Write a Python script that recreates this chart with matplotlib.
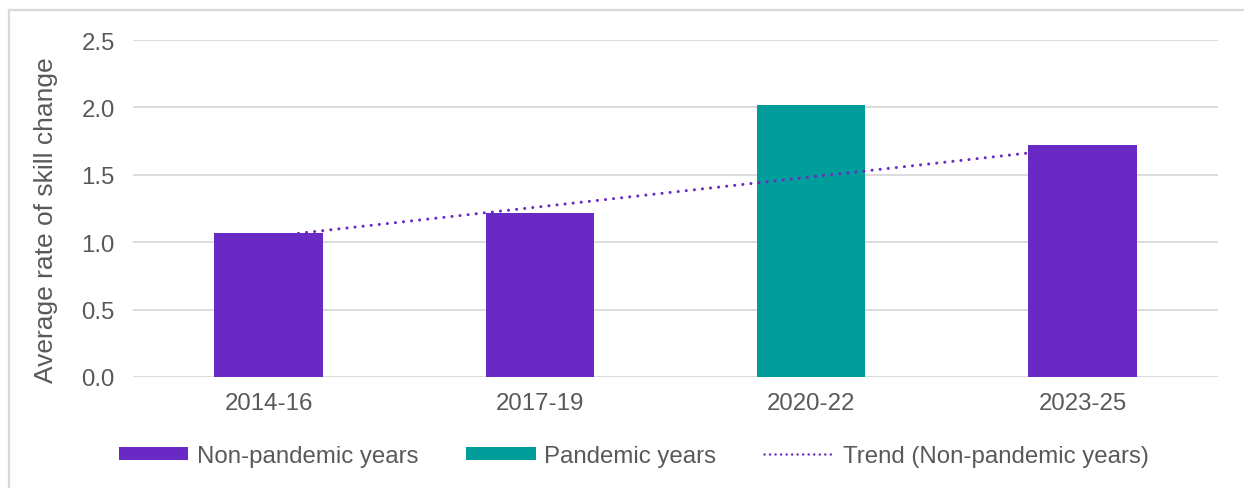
import numpy as np
import matplotlib
matplotlib.use("Agg")
import matplotlib.pyplot as plt
from matplotlib.lines import Line2D
from matplotlib.patches import Patch

# Data
periods = ["2014-16", "2017-19", "2020-22", "2023-25"]
skill_change = [1.07, 1.22, 2.02, 1.72]
is_pandemic = [False, False, True, False]
y_ticks = [0.0, 0.5, 1.0, 1.5, 2.0, 2.5]

PURPLE = "#6929C4"
TEAL = "#009D9A"
GRID = "#D9D9D9"
TEXT = "#595959"
FS = 17.3

plt.rcParams["font.family"] = ["Liberation Sans", "DejaVu Sans"]

W, H = 1244, 489
fig = plt.figure(figsize=(W / 100, H / 100), dpi=100)
ax = fig.add_axes([133 / W, 1 - 378 / H, (1218 - 133) / W, (378 - 41) / H])

x = np.arange(len(periods))
colors = [TEAL if p else PURPLE for p in is_pandemic]
ax.bar(x, skill_change, width=0.4, color=colors, zorder=2)

# Linear trend fitted on the non-pandemic periods
xs = x[~np.array(is_pandemic)]
ys = np.array(skill_change)[~np.array(is_pandemic)]
slope, intercept = np.polyfit(xs, ys, 1)
tx = np.array([0.11, 2.8])
ax.plot(tx, intercept + slope * tx, color=PURPLE, lw=2.2,
        linestyle=(0, (0.01, 2.65)), dash_capstyle="round", zorder=3)

ax.set_xlim(-0.5, 3.5)
ax.set_ylim(0, 2.5)
ax.set_yticks(y_ticks)
ax.set_yticklabels([f"{v:.1f}" for v in y_ticks])
ax.set_xticks(x)
ax.set_xticklabels(periods)
ax.tick_params(axis="y", length=0, pad=13, labelsize=FS, labelcolor=TEXT)
ax.tick_params(axis="x", length=0, pad=11, labelsize=FS, labelcolor=TEXT)
ax.grid(axis="y", color=GRID, lw=1.3, zorder=0)
ax.set_axisbelow(True)
for s in ax.spines.values():
    s.set_visible(False)

fig.text(46 / W, 1 - 220 / H, "Average rate of skill change", rotation=90,
         ha="center", va="center", fontsize=19, color=TEXT)

handles = [
    Patch(facecolor=PURPLE, edgecolor="none", label="Non-pandemic years"),
    Patch(facecolor=TEAL, edgecolor="none", label="Pandemic years"),
    Line2D([0], [0], color=PURPLE, lw=1.8, linestyle=(0, (0.01, 2.2)),
           dash_capstyle="round", label="Trend (Non-pandemic years)"),
]
fig.legend(handles=handles, ncol=3, loc="center",
           bbox_to_anchor=(633.5 / W, 1 - 457 / H), frameon=False,
           fontsize=FS, labelcolor=TEXT, handlelength=2.9, handleheight=0.45,
           handletextpad=0.35, columnspacing=2.0, borderpad=0)

# Outer frame (left and top edges)
fig.add_artist(Line2D([9 / W, 9 / W], [0, 1 - 11 / H], color=GRID, lw=1.6,
                      transform=fig.transFigure))
fig.add_artist(Line2D([9 / W, 1], [1 - 11 / H, 1 - 11 / H], color=GRID, lw=1.6,
                      transform=fig.transFigure))

fig.savefig("out.png", dpi=100)
